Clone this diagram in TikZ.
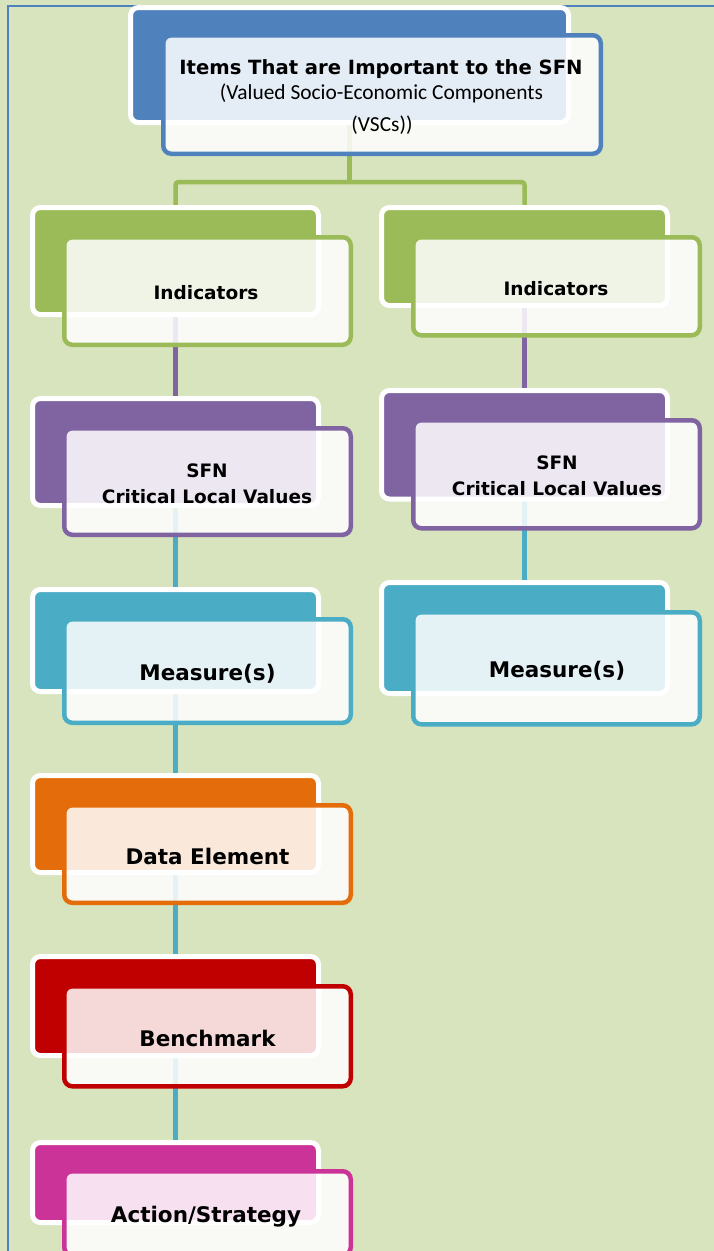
\documentclass[tikz,border=0pt]{standalone}
\usepackage{fontspec}
\setmainfont{DejaVu Sans}
\newfontfamily\calfont{Carlito}
\definecolor{bgcol}{HTML}{D7E4BD}
\definecolor{cblue}{HTML}{4F81BD}
\definecolor{cgreen}{HTML}{9BBB59}
\definecolor{cpurple}{HTML}{8064A2}
\definecolor{cteal}{HTML}{4BACC6}
\definecolor{corange}{HTML}{E46C0A}
\definecolor{cred}{HTML}{C00000}
\definecolor{cmagenta}{HTML}{CC3399}
\pgfdeclarelayer{bglayer}
\pgfsetlayers{bglayer,main}
\tikzset{
  backbox/.style={rectangle, rounded corners=8pt, draw=white, line width=5pt,
    minimum width=286pt, anchor=north west, inner sep=0pt, outer sep=0pt},
  frontbox/.style={rectangle, rounded corners=8pt, line width=4.5pt, fill=white,
    fill opacity=0.85, minimum width=286.5pt, anchor=north west, inner sep=0pt, outer sep=0pt},
  conn/.style={line width=4.5pt},
  lblsmall/.style={anchor=base, inner sep=0pt, font=\fontsize{18.5}{22}\selectfont\bfseries},
  lblbig/.style={anchor=base, inner sep=0pt, font=\fontsize{21.5}{25}\selectfont\bfseries},
  lbltitle/.style={anchor=base, inner sep=0pt, font=\fontsize{19.6}{23}\selectfont\bfseries},
  lblsub/.style={anchor=base, inner sep=0pt, font=\calfont\fontsize{21.4}{25}\selectfont},
}
\newcommand{\boxpair}[7]{%
  \node[backbox, fill=#7, minimum height=#5pt] (#1b) at (#2,#3) {};
  \node[frontbox, draw=#7, minimum height=#6pt] (#1f) at (#2+31.75,#3+#4) {};
}
\begin{document}
\begin{tikzpicture}[x=1pt,y=-1pt]
\useasboundingbox (0,0) rectangle (714,1251);
\clip (0,0) rectangle (714,1251);
\begin{pgfonlayer}{bglayer}
  \fill[bgcol] (0,0) rectangle (714,1251);
  \draw[cblue, line width=2pt] (7.5,5.5) rectangle (740,1280);
\end{pgfonlayer}

% top box
\node[backbox, fill=cblue, minimum width=438pt, minimum height=115pt] (topb) at (130.5,7.5) {};
\node[frontbox, draw=cblue, minimum width=437.5pt, minimum height=118.5pt] (topf) at (163.25,35.25) {};

% left column
\boxpair{indA}{32.5}{207.5}{29.75}{107}{107.5}{cgreen}
\boxpair{sfnA}{32.5}{398.5}{29.75}{107}{106.5}{cpurple}
\boxpair{meaA}{32.5}{589.5}{29.75}{102}{103.5}{cteal}
\boxpair{datA}{32.5}{775.5}{29.75}{97}{97.5}{corange}
\boxpair{benA}{32.5}{956.5}{29.75}{99}{100}{cred}
\boxpair{actA}{32.5}{1142.5}{28.75}{80}{84}{cmagenta}
% right column
\boxpair{indB}{381.5}{207.5}{29.75}{98}{98}{cgreen}
\boxpair{sfnB}{381.5}{390.5}{29.75}{108.5}{108}{cpurple}
\boxpair{meaB}{381.5}{582.5}{29.75}{111}{112}{cteal}

% connectors (behind the boxes)
\coordinate (jn) at (349.5,182);
\begin{pgfonlayer}{bglayer}
  \draw[conn, cgreen] (topb.south) -- (jn);
  \draw[conn, cgreen, rounded corners=3pt] (indAb.north) |- (jn) -| (indBb.north);
  \draw[conn, cpurple] (indAb.south) -- (sfnAb.north);
  \draw[conn, cteal] (sfnAb.south) -- (meaAb.north);
  \draw[conn, cteal] (meaAb.south) -- (datAb.north);
  \draw[conn, cteal] (datAb.south) -- (benAb.north);
  \draw[conn, cteal] (benAb.south) -- (actAb.north);
  \draw[conn, cpurple] (indBb.south) -- (sfnBb.north);
  \draw[conn, cteal] (sfnBb.south) -- (meaBb.north);
\end{pgfonlayer}

% texts
\node[lbltitle] (ttitle) at (381,74) {Items That are Important to the SFN};
\node[lblsub] (tsub1) at (381.5,99) {(Valued Socio-Economic Components};
\node[lblsub] (tsub2) at (382,131) {(VSCs))};

\node[lblsmall] (tindA) at (206,299) {Indicators};
\node[lblsmall] (tsfnA1) at (207,477) {SFN};
\node[lblsmall] (tsfnA2) at (207,503) {Critical Local Values};
\node[lblbig] (tmeaA) at (207.5,680) {Measure(s)};
\node[lblbig] (tdatA) at (207.5,864) {Data Element};
\node[lblbig] (tbenA) at (207.5,1046) {Benchmark};
\node[lblbig] (tactA) at (206,1222) {Action/Strategy};

\node[lblsmall] (tindB) at (556,295) {Indicators};
\node[lblsmall] (tsfnB1) at (557,469) {SFN};
\node[lblsmall] (tsfnB2) at (557,495) {Critical Local Values};
\node[lblbig] (tmeaB) at (557,677) {Measure(s)};
\end{tikzpicture}
\end{document}
